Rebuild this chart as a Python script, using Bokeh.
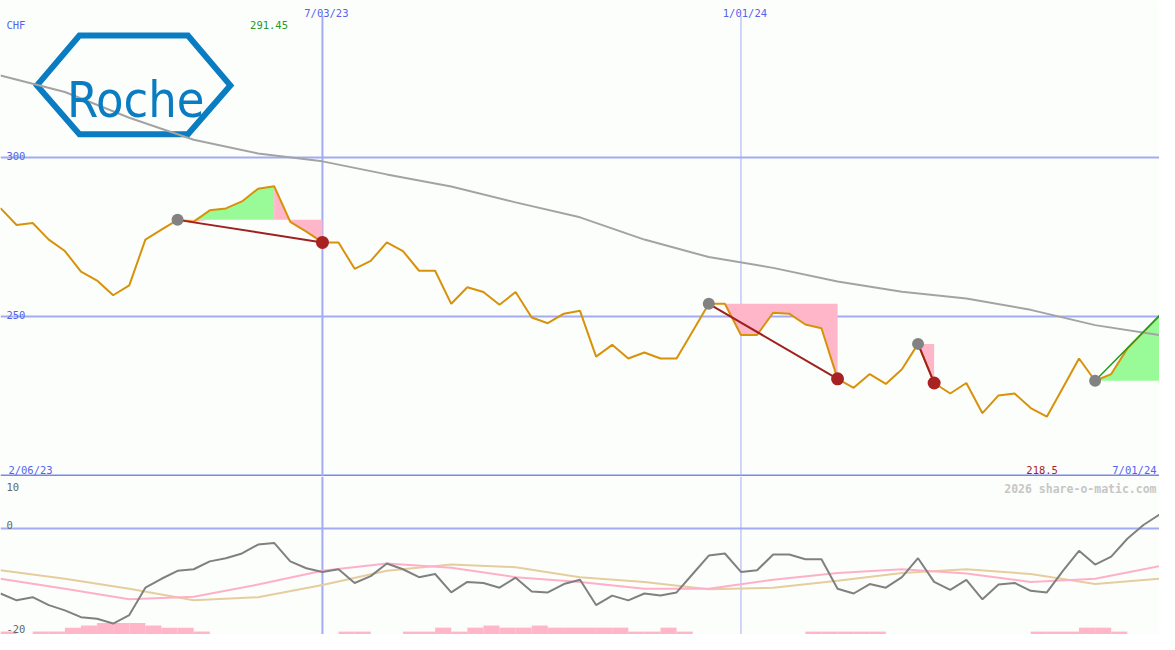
from bokeh.plotting import figure
from bokeh.layouts import column
from bokeh.models import Span, Label, Range1d, FixedTicker
from bokeh.embed import file_html
from bokeh.resources import INLINE

# ---------------- data ----------------
weeks = list(range(73))  # weekly points, 0 = start of window
price = [284.1, 278.8, 279.4, 274.2, 270.6, 264.1, 261.3, 256.7, 259.8, 274.2,
         277.3, 280.4, 279.8, 283.4, 284.0, 286.2, 290.2, 291.0, 279.8, 276.7,
         273.3, 273.3, 265.0, 267.5, 273.3, 270.6, 264.4, 264.4, 254.0, 259.2,
         257.7, 253.7, 257.7, 249.7, 247.9, 250.9, 251.8, 237.4, 241.1, 236.8,
         238.7, 236.8, 236.8, 245.4, 254.0, 254.0, 244.2, 244.2, 251.2, 250.9,
         247.5, 246.3, 230.4, 227.6, 231.9, 228.8, 233.4, 241.4, 229.1, 225.8,
         229.1, 219.6, 225.2, 225.8, 221.2, 218.5, 227.6, 236.8, 229.8, 231.9,
         239.9, 245.1, 250.3]
ma_weeks = list(range(0, 73, 4))
ma_long = [325.8, 320.6, 312.5, 305.6, 301.3, 298.8, 294.7, 290.9, 285.9, 281.2,
           274.2, 268.7, 265.3, 261.0, 257.8, 255.7, 252.1, 247.3, 244.2]
osc = [-12.4, -13.7, -13.1, -14.6, -15.6, -16.9, -17.2, -18.1, -16.5, -11.3,
       -9.6, -8.1, -7.8, -6.3, -5.7, -4.8, -3.1, -2.8, -6.3, -7.6,
       -8.3, -7.8, -10.4, -9.1, -6.7, -7.8, -9.3, -8.7, -12.2, -10.2,
       -10.4, -11.3, -9.4, -12.0, -12.2, -10.6, -9.8, -14.6, -12.8, -13.7,
       -12.4, -12.8, -12.2, -8.7, -5.2, -4.8, -8.3, -8.0, -5.0, -5.0,
       -5.9, -5.9, -11.5, -12.4, -10.6, -11.3, -9.3, -5.7, -10.2, -11.7,
       -9.8, -13.5, -10.7, -10.4, -11.9, -12.2, -8.1, -4.3, -6.9, -5.4,
       -2.0, 0.6, 2.6]
osc_fast = [-9.6, -11.5, -13.5, -13.0, -10.7, -8.1, -6.7, -7.5, -9.3, -10.2,
            -11.5, -11.5, -9.8, -8.5, -7.8, -8.6, -10.2, -9.6, -7.2]
osc_slow = [-8.0, -9.6, -11.5, -13.7, -13.1, -10.8, -8.1, -6.9, -7.4, -9.3,
            -10.2, -11.6, -11.3, -10.0, -8.5, -7.8, -8.7, -10.6, -9.6]
hist_weeks = list(range(72))
hist = [0.55, 0, 0.55, 0.55, 1.3, 1.7, 2.2, 2.2, 2.2, 1.7,
        1.3, 1.3, 0.55, 0, 0, 0, 0, 0, 0, 0,
        0, 0.55, 0.55, 0, 0, 0.55, 0.55, 1.3, 0.55, 1.3,
        1.7, 1.3, 1.3, 1.7, 1.3, 1.3, 1.3, 1.3, 1.3, 0.55,
        0.55, 1.3, 0.55, 0, 0, 0, 0, 0, 0, 0,
        0.55, 0.55, 0.55, 0.55, 0.55, 0, 0, 0, 0, 0,
        0, 0, 0, 0, 0.55, 0.55, 0.55, 1.3, 1.3, 0.55,
        0, 0]
entries = [11, 44, 57, 68]
exits = [20, 52, 58, 72]
closed = [True, True, True, False]
price_ticks = [250, 300]
osc_ticks = [10, 0, -20]
date_weeks = [20, 46]
date_labels = ["7/03/23", "1/01/24"]
start_label = "2/06/23"
end_label = "7/01/24"
hi_val = 291.45
lo_val = 218.5
currency = "CHF"
brand = "Roche"
watermark = "2026 share-o-matic.com"

# ---------------- layout helpers (reference pixel -> data) ----------------
W, H1, H2 = 1159, 476, 158
PXW = 1175 / 72.0
def X(px):
    return px / PXW
def Y1(py):
    return 250 + (324 - py) / 3.26
def Y2(py):
    return (541 - py) / 5.4

BG = "#fcfefc"
GRID = "#a3abf2"
DARK = "#7a86ec"
BLUE_TXT = "#5563ee"
MONO = "DejaVu Sans Mono"

xr = Range1d(0, 72)
p1 = figure(width=W, height=H1, x_range=xr, y_range=Range1d(Y1(488), Y1(0)),
            output_backend="svg", toolbar_location=None, min_border=0,
            x_axis_location=None, y_axis_location=None,
            background_fill_color=BG, border_fill_color=BG, outline_line_color=None)
p1.xgrid.visible = False
p1.ygrid.ticker = FixedTicker(ticks=price_ticks)
p1.ygrid.grid_line_color = GRID
p1.ygrid.grid_line_width = 2

p2 = figure(width=W, height=H2, x_range=xr, y_range=Range1d(Y2(650), Y2(488)),
            output_backend="svg", toolbar_location=None, min_border=0,
            x_axis_location=None, y_axis_location=None,
            background_fill_color=BG, border_fill_color=BG, outline_line_color=None)
p2.xgrid.visible = False
p2.ygrid.ticker = FixedTicker(ticks=[0])
p2.ygrid.grid_line_color = GRID
p2.ygrid.grid_line_width = 2

# date lines (start below their labels in the top panel)
p1.segment(x0=date_weeks, y0=[Y1(16)] * 2, x1=date_weeks, y1=[Y1(488)] * 2,
           line_color=GRID, line_width=[2, 1])
for wk, lw in zip(date_weeks, [2, 1]):
    p2.add_layout(Span(location=wk, dimension="height", line_color=GRID,
                       line_width=lw, level="underlay"))
p1.add_layout(Span(location=200, dimension="width", line_color=DARK, line_width=2,
                   level="underlay"))

# ---------------- logo ----------------
hx = [X(v) for v in (37, 80, 190, 233, 190, 80)]
hy = [Y1(v) for v in (87, 36, 36, 87, 137, 137)]
p1.patch(hx, hy, fill_color=None, line_color="#0a7cc1", line_width=6, line_join="miter")
p1.add_layout(Label(x=X(137), y=Y1(102), text=brand, text_align="center",
                    text_baseline="alphabetic", text_color="#0a7cc1",
                    text_font="DejaVu Sans Condensed", text_font_size="50px"))

# ---------------- trade fills ----------------
GREEN_FILL = "#98fb98"
PINK_FILL = "#ffb6c8"
for e, x in zip(entries, exits):
    lvl = price[e]
    seg = price[e:x + 1]
    pk = e + seg.index(max(seg))
    wa = weeks[e:pk + 1]
    pa = price[e:pk + 1]
    if len(wa) > 1:
        p1.varea(x=wa, y1=[lvl] * len(wa), y2=[max(v, lvl) for v in pa],
                 fill_color=GREEN_FILL)
        p1.varea(x=wa, y1=[min(v, lvl) for v in pa], y2=[lvl] * len(wa),
                 fill_color=PINK_FILL)
    wb = weeks[pk:x + 1]
    pb = price[pk:x + 1]
    if len(wb) > 1:
        p1.varea(x=wb, y1=pb, y2=[lvl] * len(wb), fill_color=PINK_FILL)

# ---------------- lines ----------------
p1.line(ma_weeks, ma_long, line_color="#a3a3a3", line_width=2)
p1.line(weeks, price, line_color="#d8920a", line_width=2)

for e, x, c in zip(entries, exits, closed):
    p1.line([weeks[e], weeks[x]], [price[e], price[x]],
            line_color="#a02020" if c else "#229922", line_width=2 if c else 1.5)

p1.scatter([weeks[e] for e in entries], [price[e] for e in entries],
           size=12, fill_color="#828282", line_color=None)
p1.scatter([weeks[x] for x, c in zip(exits, closed) if c],
           [price[x] for x, c in zip(exits, closed) if c],
           size=13, fill_color="#a82222", line_color=None)

# ---------------- top panel texts ----------------
def lab(p, x, y, t, color, size="10.5px", align="left", style="normal"):
    p.add_layout(Label(x=x, y=y, text=t, text_align=align, text_baseline="alphabetic",
                       text_color=color, text_font=MONO, text_font_size=size,
                       text_font_style=style))

lab(p1, X(6), Y1(25), currency, BLUE_TXT)
lab(p1, X(253), Y1(25), f"{hi_val:.2f}", "#22992b")
for wk, t in zip(date_weeks, date_labels):
    lab(p1, wk + X(4), Y1(13), t, BLUE_TXT, align="center")
for tk in price_ticks:
    lab(p1, X(6), tk + 0.5, str(tk), BLUE_TXT)
lab(p1, X(8), Y1(481), start_label, BLUE_TXT)
lab(p1, X(1040), Y1(481), f"{lo_val}", "#a82222")
lab(p1, X(1172), Y1(481), end_label, BLUE_TXT, align="right")

# ---------------- lower panel ----------------
base = Y2(650)
p2.quad(left=hist_weeks, right=[w + 1 for w in hist_weeks], bottom=base,
        top=[base + h for h in hist], fill_color="#ffb6c8", line_color=None)
p2.line(ma_weeks, osc_slow, line_color="#e6cd9e", line_width=2)
p2.line(ma_weeks, osc_fast, line_color="#ffb0c8", line_width=2)
p2.line(weeks, osc, line_color="#808080", line_width=2)

for tk, off in zip(osc_ticks, [-2.2, 0.55, 0.9]):
    lab(p2, X(6), tk + off, str(tk), "#666666")
lab(p2, X(1172), Y2(501), watermark, "#c6c6c6", size="11.5px", align="right", style="bold")

layout = column(p1, p2, spacing=0)
open("out.html", "w").write(file_html(layout, INLINE))
